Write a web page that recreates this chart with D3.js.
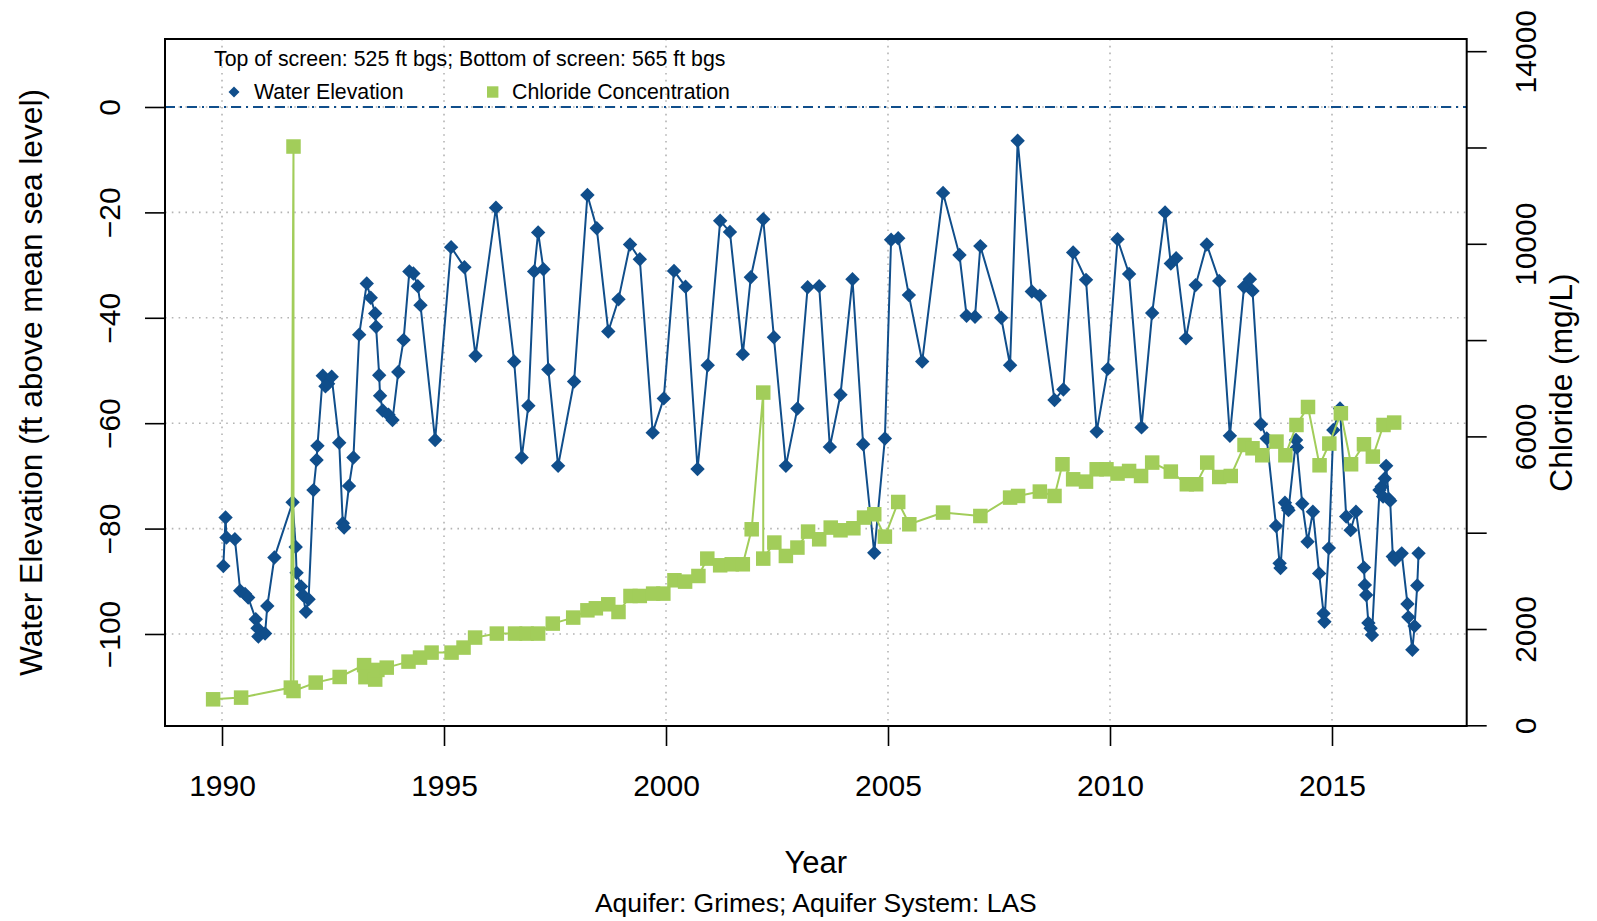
<!DOCTYPE html>
<html>
<head>
<meta charset="utf-8">
<script src="https://cdn.jsdelivr.net/npm/d3@7"></script>
<style>
  html, body { margin: 0; padding: 0; background: #ffffff; }
  svg { display: block; font-family: "Liberation Sans", Arial, Helvetica, sans-serif; }
</style>
</head>
<body>
<svg id="chart" width="1597" height="921"></svg>
<script>
// ---------------- DATA ----------------
const waterYears = [
  1990.03, 1990.08, 1990.10, 1990.29, 1990.41, 1990.52, 1990.59, 1990.76, 1990.80, 1990.82,
  1990.97, 1991.02, 1991.18, 1991.59, 1991.66, 1991.68, 1991.78, 1991.82, 1991.89, 1991.95,
  1992.06, 1992.13, 1992.15, 1992.27, 1992.33, 1992.39, 1992.47, 1992.64, 1992.72, 1992.75,
  1992.86, 1992.96, 1993.09, 1993.26, 1993.35, 1993.45, 1993.47, 1993.54, 1993.56, 1993.62,
  1993.75, 1993.84, 1993.97, 1994.09, 1994.22, 1994.31, 1994.41, 1994.47, 1994.80, 1995.16,
  1995.46, 1995.71, 1996.17, 1996.58, 1996.75, 1996.90, 1997.03, 1997.12, 1997.24, 1997.35,
  1997.57, 1997.93, 1998.23, 1998.44, 1998.70, 1998.93, 1999.19, 1999.41, 1999.70, 1999.95,
  2000.18, 2000.44, 2000.71, 2000.94, 2001.22, 2001.44, 2001.73, 2001.91, 2002.19, 2002.43,
  2002.70, 2002.96, 2003.19, 2003.45, 2003.69, 2003.93, 2004.20, 2004.44, 2004.69, 2004.93,
  2005.07, 2005.23, 2005.47, 2005.77, 2006.24, 2006.61, 2006.77, 2006.96, 2007.08, 2007.55,
  2007.75, 2007.92, 2008.24, 2008.42, 2008.75, 2008.95, 2009.17, 2009.46, 2009.70, 2009.95,
  2010.17, 2010.43, 2010.71, 2010.95, 2011.24, 2011.37, 2011.49, 2011.71, 2011.93, 2012.18,
  2012.46, 2012.70, 2013.02, 2013.15, 2013.21, 2013.40, 2013.53, 2013.74, 2013.82, 2013.84,
  2013.94, 2014.00, 2014.02, 2014.19, 2014.21, 2014.33, 2014.45, 2014.57, 2014.71, 2014.81,
  2014.83, 2014.93, 2015.03, 2015.18, 2015.32, 2015.42, 2015.54, 2015.72, 2015.74, 2015.77,
  2015.82, 2015.87, 2015.90, 2016.07, 2016.12, 2016.15, 2016.19, 2016.22, 2016.28, 2016.31,
  2016.37, 2016.42, 2016.57, 2016.70, 2016.72, 2016.81, 2016.86, 2016.92, 2016.95
];
const waterLevels = [
  -87.1, -77.9, -81.7, -82.0, -91.8, -92.4, -93.1, -97.2, -98.9, -100.5,
  -99.9, -94.7, -85.5, -75.0, -83.5, -88.4, -91.0, -92.6, -95.8, -93.4,
  -72.7, -67.0, -64.3, -51.0, -53.0, -52.5, -51.2, -63.7, -79.0, -79.8,
  -71.9, -66.5, -43.2, -33.5, -36.2, -39.2, -41.7, -50.9, -54.8, -57.6,
  -58.4, -59.4, -50.3, -44.2, -31.2, -31.6, -34.0, -37.6, -63.2, -26.6,
  -30.4, -47.2, -19.1, -48.3, -66.5, -56.7, -31.2, -23.8, -30.8, -49.8,
  -68.1, -52.1, -16.7, -23.0, -42.6, -36.5, -26.1, -28.9, -61.8, -55.3,
  -31.1, -34.1, -68.7, -49.0, -21.6, -23.7, -46.9, -32.3, -21.3, -43.7,
  -68.1, -57.2, -34.2, -34.0, -64.5, -54.6, -32.7, -64.0, -84.6, -62.9,
  -25.2, -24.9, -35.7, -48.3, -16.3, -28.1, -39.6, -39.8, -26.4, -40.0,
  -49.0, -6.4, -35.0, -35.8, -55.6, -53.6, -27.6, -32.8, -61.6, -49.7,
  -25.1, -31.7, -60.8, -39.1, -20.0, -29.7, -28.7, -43.9, -33.8, -26.1,
  -33.0, -62.4, -34.1, -32.7, -34.9, -60.2, -62.9, -79.5, -86.6, -87.5,
  -75.1, -76.1, -76.5, -63.2, -64.6, -75.3, -82.5, -76.8, -88.5, -96.1,
  -97.7, -83.7, -61.3, -57.2, -77.7, -80.3, -76.8, -87.4, -90.7, -92.6,
  -97.9, -98.9, -100.2, -72.7, -72.0, -73.9, -70.5, -68.1, -74.4, -74.7,
  -85.3, -85.9, -84.7, -94.3, -96.8, -103.0, -98.5, -90.8, -84.7
];
const chlorideYears = [
  1989.80, 1990.43, 1991.55, 1991.61, 1991.61, 1992.11, 1992.65, 1993.20, 1993.23, 1993.45,
  1993.50, 1993.71, 1994.20, 1994.46, 1994.72, 1995.17, 1995.44, 1995.70, 1996.19, 1996.60,
  1996.86, 1997.12, 1997.45, 1997.91, 1998.23, 1998.42, 1998.70, 1998.93, 1999.20, 1999.41,
  1999.71, 1999.94, 2000.19, 2000.43, 2000.73, 2000.93, 2001.22, 2001.48, 2001.73, 2001.93,
  2002.19, 2002.19, 2002.44, 2002.70, 2002.96, 2003.20, 2003.45, 2003.71, 2003.93, 2004.22,
  2004.46, 2004.69, 2004.93, 2005.23, 2005.48, 2006.24, 2007.08, 2007.75, 2007.93, 2008.42,
  2008.75, 2008.93, 2009.17, 2009.46, 2009.70, 2009.92, 2010.17, 2010.43, 2010.70, 2010.95,
  2011.37, 2011.73, 2011.94, 2012.19, 2012.46, 2012.72, 2013.03, 2013.21, 2013.43, 2013.75,
  2013.95, 2014.20, 2014.46, 2014.72, 2014.94, 2015.20, 2015.43, 2015.72, 2015.92, 2016.16,
  2016.40
];
const chlorideValues = [
  540, 575, 783, 12020, 712, 887, 1004, 1250, 1000, 950,
  1150, 1198, 1323, 1406, 1510, 1510, 1614, 1822, 1905, 1905,
  1905, 1905, 2112, 2237, 2388, 2430, 2513, 2353, 2686, 2686,
  2735, 2735, 3012, 2984, 3101, 3462, 3323, 3344, 3344, 4071,
  6910, 3462, 3795, 3517, 3691, 4023, 3863, 4106, 4050, 4092,
  4314, 4383, 3919, 4638, 4175, 4418, 4347, 4729, 4763, 4854,
  4763, 5421, 5109, 5061, 5317, 5317, 5228, 5282, 5178, 5456,
  5269, 5006, 5006, 5456, 5157, 5178, 5822, 5753, 5608, 5892,
  5608, 6237, 6611, 5400, 5851, 6480, 5421, 5836, 5581, 6237,
  6287
];
const yearTicks = [1990, 1995, 2000, 2005, 2010, 2015];
const levelTicks = [-100, -80, -60, -40, -20, 0];
const chlorideTicks = [0, 2000, 4000, 6000, 8000, 10000, 12000, 14000];
const chlorideLabelled = [0, 2000, 6000, 10000, 14000];

const legendTitle = "Top of screen: 525 ft bgs; Bottom of screen: 565 ft bgs";
const legendLabels = ["Water Elevation", "Chloride Concentration"];
const xTitle = "Year";
const subTitle = "Aquifer: Grimes; Aquifer System: LAS";
const yLeftTitle = "Water Elevation (ft above mean sea level)";
const yRightTitle = "Chloride (mg/L)";

// ---------------- LAYOUT ----------------
const L = 165, R = 1466.7, T = 39, B = 726;
const BLUE = "#104E8B", GREEN = "#A2CD5A";

const svg = d3.select("#chart");

const x = d3.scaleLinear().domain([1988.716, 2018.034]).range([L, R]);
const yL = d3.scaleLinear().domain([-117.46, 12.9]).range([B, T]);
const yR = d3.scaleLinear().domain([-14.5, 14253]).range([B, T]);

const water = waterYears.map((d, i) => ({ x: d, y: waterLevels[i] }));
const chloride = chlorideYears.map((d, i) => ({ x: d, y: chlorideValues[i] }));

// grid
const grid = svg.append("g").attr("stroke", "#B4B4B4").attr("stroke-width", 1.6)
  .attr("stroke-dasharray", "1.6,5.2");
grid.selectAll("line.v").data(yearTicks).enter().append("line")
  .attr("x1", d => x(d)).attr("x2", d => x(d)).attr("y1", T).attr("y2", B);
grid.selectAll("line.h").data(levelTicks).enter().append("line")
  .attr("y1", d => yL(d)).attr("y2", d => yL(d)).attr("x1", L).attr("x2", R);

// zero reference line
svg.append("line")
  .attr("x1", L).attr("x2", R).attr("y1", yL(0)).attr("y2", yL(0))
  .attr("stroke", BLUE).attr("stroke-width", 2).attr("stroke-dasharray", "10,5,2,5");

// water elevation series
svg.append("path").datum(water)
  .attr("fill", "none").attr("stroke", BLUE).attr("stroke-width", 2)
  .attr("d", d3.line().x(d => x(d.x)).y(d => yL(d.y)));
const dia = 7.2;
svg.append("g").selectAll("path").data(water).enter().append("path")
  .attr("fill", BLUE)
  .attr("d", d => {
    const cx = x(d.x), cy = yL(d.y);
    return `M${cx},${cy - dia}L${cx + dia},${cy}L${cx},${cy + dia}L${cx - dia},${cy}Z`;
  });

// chloride series
svg.append("path").datum(chloride)
  .attr("fill", "none").attr("stroke", GREEN).attr("stroke-width", 2)
  .attr("d", d3.line().x(d => x(d.x)).y(d => yR(d.y)));
const sq = 14.5;
svg.append("g").selectAll("rect").data(chloride).enter().append("rect")
  .attr("fill", GREEN)
  .attr("x", d => x(d.x) - sq / 2).attr("y", d => yR(d.y) - sq / 2)
  .attr("width", sq).attr("height", sq);

// box
svg.append("rect").attr("x", L).attr("y", T).attr("width", R - L).attr("height", B - T)
  .attr("fill", "none").attr("stroke", "#000").attr("stroke-width", 2);

// axes
function styleAxis(g) {
  g.select(".domain").remove();
  g.selectAll(".tick line").attr("stroke", "#000").attr("stroke-width", 1.6);
  g.selectAll(".tick text").attr("fill", "#000").style("font-size", "30px")
    .style("font-family", '"Liberation Sans", Arial, sans-serif');
}

const xAxis = svg.append("g").attr("transform", `translate(0,${B})`)
  .call(d3.axisBottom(x).tickValues(yearTicks).tickFormat(d3.format("d")).tickSize(20).tickPadding(28.7));
styleAxis(xAxis);

const leftAxis = svg.append("g").attr("transform", `translate(${L},0)`)
  .call(d3.axisLeft(yL).tickValues(levelTicks).tickSize(20));
styleAxis(leftAxis);
leftAxis.selectAll(".tick text")
  .attr("x", null).attr("dy", null).attr("y", null)
  .attr("text-anchor", "middle")
  .attr("transform", "translate(-45,0) rotate(-90)");

const rightAxis = svg.append("g").attr("transform", `translate(${R},0)`)
  .call(d3.axisRight(yR).tickValues(chlorideTicks)
    .tickFormat(d => chlorideLabelled.includes(d) ? d3.format("d")(d) : "").tickSize(20));
styleAxis(rightAxis);
rightAxis.selectAll(".tick text")
  .attr("x", null).attr("dy", null).attr("y", null)
  .attr("text-anchor", "middle")
  .attr("transform", "translate(69.3,0) rotate(-90)");

// titles
svg.append("text").attr("x", (L + R) / 2).attr("y", 872.7).attr("text-anchor", "middle")
  .style("font-size", "31px").text(xTitle);
svg.append("text").attr("x", (L + R) / 2).attr("y", 911.5).attr("text-anchor", "middle")
  .style("font-size", "26.5px").text(subTitle);
svg.append("text").attr("text-anchor", "middle")
  .attr("transform", `translate(42,${(T + B) / 2}) rotate(-90)`)
  .style("font-size", "31.7px").text(yLeftTitle);
svg.append("text").attr("text-anchor", "middle")
  .attr("transform", `translate(1572,${(T + B) / 2}) rotate(-90)`)
  .style("font-size", "31.7px").text(yRightTitle);

// legend
svg.append("text").attr("x", 214).attr("y", 65.5).style("font-size", "21.3px").text(legendTitle);
const lg = svg.append("g");
const ld = 5.5;
lg.append("path").attr("fill", BLUE)
  .attr("d", `M234,${92 - ld}L${234 + ld},92L234,${92 + ld}L${234 - ld},92Z`);
lg.append("text").attr("x", 254).attr("y", 99).style("font-size", "21.3px").text(legendLabels[0]);
lg.append("rect").attr("fill", GREEN).attr("x", 492.7 - 5.7).attr("y", 92 - 5.7)
  .attr("width", 11.4).attr("height", 11.4);
lg.append("text").attr("x", 512).attr("y", 99).style("font-size", "21.3px").text(legendLabels[1]);
</script>
</body>
</html>
